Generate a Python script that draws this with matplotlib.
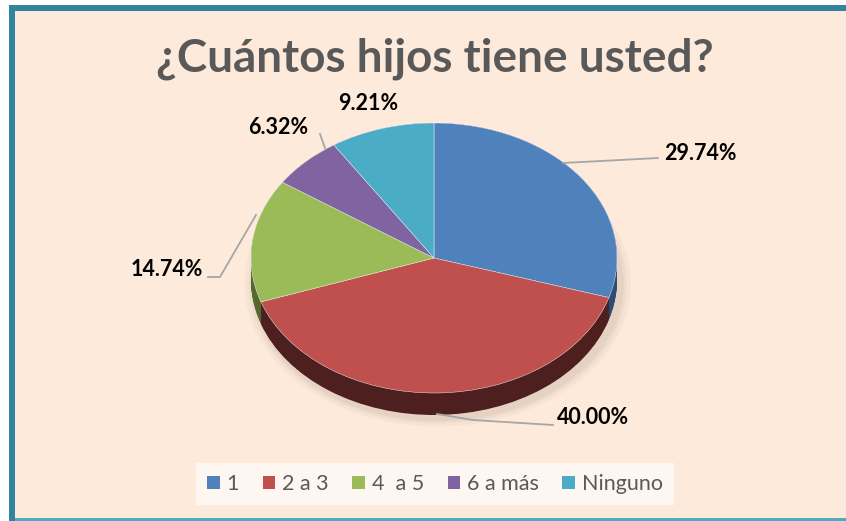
import numpy as np
import matplotlib.pyplot as plt
from matplotlib.patches import Rectangle

categories = ["1", "2 a 3", "4  a 5", "6 a más", "Ninguno"]
percent = [29.74, 40.00, 14.74, 6.32, 9.21]
colors = ["#4F81BD", "#C0504D", "#9BBB59", "#8064A2", "#4BACC6"]
side_colors = ["#2E4D73", "#4E1F1F", "#55692F", "#463660", "#26677A"]

W, H = 846, 521
fig = plt.figure(figsize=(W / 100, H / 100), dpi=100)
fig.patch.set_facecolor("white")


def frect(x0, y0, x1, y1, color):
    # rectangle in pixel coords measured from the top-left corner
    fig.patches.append(Rectangle((x0 / W, 1 - y1 / H), (x1 - x0) / W, (y1 - y0) / H,
                                 transform=fig.transFigure, facecolor=color,
                                 edgecolor="none", zorder=-5))


frect(15, 11, W, H, "#FDEADA")
frect(9, 5, W, 11, "#31849B")
frect(9, 5, 15, H, "#31849B")
frect(15, 518, W, H, "#4BACC6")

# pie geometry in pixels (from top-left)
cx, cy, rx, ry, depth = 434, 258, 183, 135, 22

ax = fig.add_axes([0, 0, 1, 1])
ax.patch.set_visible(False)


def to_data(px, py):
    return (px - cx) / rx, (cy - py) / ry


# soft shadow
for k, a in zip([10, 6, 3], [0.05, 0.06, 0.08]):
    ax.pie([1], colors=["#7F6A5A"], radius=1 + k / rx, center=(0.02, -(depth + 4) / ry),
           wedgeprops=dict(linewidth=0, alpha=a))

# side of the 3D pie
for d in np.linspace(depth, 0, 30):
    ax.pie(percent, colors=side_colors, startangle=90, counterclock=False,
           center=(0, -d / ry), wedgeprops=dict(linewidth=0))

# top face
ax.pie(percent, colors=colors, startangle=90, counterclock=False,
       wedgeprops=dict(linewidth=0.3, edgecolor="#FFFFFF"))

ax.set_aspect("auto")
ax.set_xlim(-cx / rx, (W - cx) / rx)
ax.set_ylim(-(H - cy) / ry, cy / ry)
ax.axis("off")

# labels
labels = [f"{p:.2f}%" for p in percent]
label_pos = [(700, 153), (593, 418), (167, 270), (278, 127), (368, 103)]
line_pts = [
    [(563, 163), (658, 158)],
    [(437, 414), (473, 420), (553, 425)],
    [(256, 215), (220, 277), (208, 277)],
    [(325, 148), (320, 134)],
    None,
]
for lab, (px, py), pts in zip(labels, label_pos, line_pts):
    x, y = to_data(px, py)
    ax.text(x, y, lab, ha="center", va="center", fontsize=15.5, fontweight="bold",
            family="Lato", color="black")
    if pts:
        xs, ys = zip(*[to_data(a, b) for a, b in pts])
        ax.plot(xs, ys, color="#A6A6A6", lw=1.3)

fig.text(435 / W, 1 - 59 / H, "¿Cuántos hijos tiene usted?", ha="center", va="center",
         fontsize=33, fontweight="bold", family="Lato", color="#595959")

handles = [Rectangle((0, 0), 1, 1, facecolor=c) for c in colors]
leg = fig.legend(handles, categories, loc="center", bbox_to_anchor=(435 / W, 1 - 484 / H),
                 ncol=5, frameon=True, fancybox=False,
                 handlelength=0.6, handleheight=0.6, handletextpad=0.3, columnspacing=1.1,
                 borderpad=0.5, prop=dict(family="Lato", size=15.5))
leg.get_frame().set_facecolor("#FFFBF7")
leg.get_frame().set_edgecolor("none")
for t in leg.get_texts():
    t.set_color("#595959")

fig.savefig("out.png", dpi=100, facecolor=fig.get_facecolor())
